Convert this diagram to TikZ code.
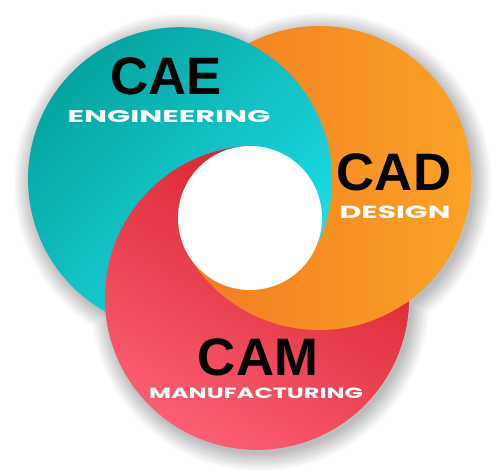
\documentclass[tikz,border=0pt]{standalone}
\usepackage{fontspec}
\usepackage{graphicx}
\usetikzlibrary{calc}
\newfontfamily\headfont{Liberation Sans}
\newfontfamily\tagfont{Poppins}
\newcommand{\stretchtag}[3]{\resizebox{#1}{#2}{\tagfont\bfseries #3}}

\definecolor{tealdark}{RGB}{6,164,160}
\definecolor{teallight}{RGB}{30,222,232}
\definecolor{orangedark}{RGB}{242,122,34}
\definecolor{orangelight}{RGB}{250,162,38}
\definecolor{reddark}{RGB}{214,30,40}
\definecolor{redlight}{RGB}{250,94,114}

\begin{document}
\begin{tikzpicture}[x=0.02cm, y=0.02cm]
  \tikzset{title/.style={font=\headfont\bfseries\fontsize{30}{30}\selectfont, inner sep=0},
    tag/.style={text=white, inner sep=0},
    caeblob/.style={top color=tealdark, bottom color=teallight, shading angle=45},
    cadblob/.style={left color=orangedark, right color=orangelight},
    camblob/.style={top color=reddark, bottom color=redlight, shading angle=-30}}
  \useasboundingbox (0,0) rectangle (500,473);
  \coordinate (W) at (250,255);
  \coordinate (T) at ($(W)+(151:80)$);
  \coordinate (O) at ($(W)+(30:80)$);
  \coordinate (R) at ($(W)+(-85:80)$);
  % soft shadow under the three discs
  \foreach \s in {18,17,...,0} {
    \pgfmathtruncatemacro\g{100-1.4*(18-\s)}
    \fill[white!\g!black] ($(T)+(3,-4)$) circle (152+\s)
      ($(O)+(3,-4)$) circle (152+\s) ($(R)+(3,-4)$) circle (152+\s);
  }
  % base: CAM under CAD under CAE
  \shade[camblob] (R) circle (152);
  \shade[cadblob] (O) circle (152);
  \shade[caeblob] (T) circle (152);
  % CAM comes up on the left and bottom
  \begin{scope}
    \clip (W) \foreach \a in {95,150,210,270,331} { -- ($(W)+(\a:700)$) } -- cycle;
    \shade[camblob] (R) circle (152);
  \end{scope}
  % CAD comes up at the bottom
  \begin{scope}
    \clip (W) \foreach \a in {210,270,341} { -- ($(W)+(\a:700)$) } -- cycle;
    \shade[cadblob] (O) circle (152);
  \end{scope}
  \fill[white] (W) circle (72);
  \node[title] (cae) at (166,397) {CAE};
  \node[tag] (engineering) at (169,356) {\stretchtag{4.06cm}{0.24cm}{ENGINEERING}};
  \node[title] (cad) at (394,301) {CAD};
  \node[tag] (design) at (395,261) {\stretchtag{2.22cm}{0.25cm}{DESIGN}};
  \node[title] (cam) at (258,116) {CAM};
  \node[tag] (manufacturing) at (256,80) {\stretchtag{4.28cm}{0.21cm}{MANUFACTURING}};
\end{tikzpicture}
\end{document}
